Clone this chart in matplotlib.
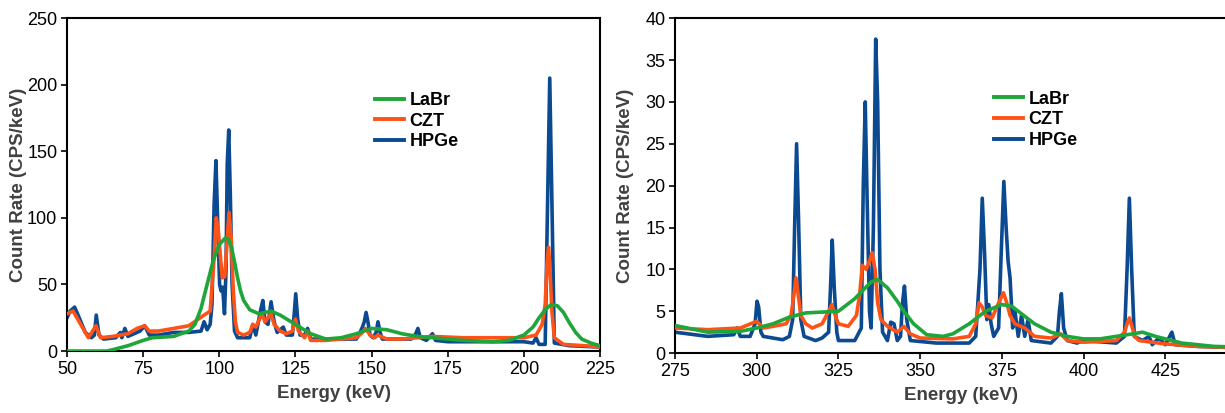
import matplotlib
matplotlib.use("Agg")
import matplotlib.pyplot as plt
from matplotlib.lines import Line2D

plt.rcParams["font.family"] = ["Liberation Sans", "DejaVu Sans"]
plt.rcParams["font.size"] = 13

GREEN = "#1fa63a"
ORANGE = "#ff5216"
BLUE = "#0b4a91"

# ---- left panel: 50-225 keV ----
hpge_e1 = [50, 51, 52.5, 54, 56, 58, 59, 59.6, 60.5, 62, 66, 67.5, 68, 69, 70, 72, 74, 75.5, 77,
           80, 85, 90, 94, 95, 96, 97, 97.6, 98.3, 98.9, 99.5, 100.1, 100.6, 101.1, 101.7, 102.2,
           102.6, 103.1, 103.6, 104.2, 105, 106, 110, 111, 112, 113.5, 114.3, 115, 116, 117, 118,
           119, 121, 122, 124, 124.5, 125.1, 125.7, 126.5, 128, 129, 130, 135, 140, 145, 146, 147,
           147.6, 148.2, 148.8, 149.5, 150.5, 151.5, 152.1, 152.8, 153.5, 155, 163, 164.5, 165.2,
           166, 168, 170, 171, 175, 185, 195, 200, 203, 204, 205, 207, 207.7, 208.5, 209.3, 210,
           215, 225]
hpge_c1 = [25, 30, 33, 25, 14, 10, 12, 27, 12, 9, 10, 14, 10, 17, 11, 13, 15, 19, 12,
           12, 14, 14, 15, 22, 16, 20, 35, 110, 143, 95, 50, 45, 48, 28, 60,
           140, 166, 120, 50, 15, 10, 10, 20, 12, 30, 38, 22, 20, 37, 22,
           14, 18, 12, 12, 25, 43, 25, 12, 12, 17, 9, 9, 9, 9, 13, 18,
           22, 29, 22, 12, 10, 14, 22, 14, 9, 9, 9, 13, 17,
           10, 8, 13, 8, 7, 7, 7, 7, 6, 10, 5, 5, 100, 205, 100, 6,
           4, 3]

czt_e1 = [50, 52, 54, 57, 59.5, 61, 65, 70, 73, 75.5, 77, 80, 85, 90, 95, 97, 98.3, 99, 99.7, 100.4,
          101, 101.8, 102.5, 103.2, 103.9, 104.6, 105.3, 106, 108, 110, 111, 112, 114, 115, 116, 117,
          118, 120, 122, 124, 125, 126, 128, 129, 130, 135, 140, 145, 147, 148, 149.5, 151, 152, 155,
          160, 165, 170, 180, 190, 200, 204, 206, 207, 207.6, 208.1, 208.6, 209.2, 210, 213, 220, 225]
czt_c1 = [28, 30, 22, 10, 19, 10, 11, 13, 17, 19, 15, 15, 17, 19, 27, 30, 70, 100, 90, 70,
          55, 56, 80, 104, 85, 45, 22, 14, 12, 14, 20, 18, 28, 22, 25, 28,
          20, 15, 13, 15, 24, 15, 10, 15, 8, 8, 9, 10, 14, 17, 12, 10, 12, 9,
          9, 10, 11, 10, 10, 10, 12, 20, 35, 65, 78, 60, 30, 10, 5, 4, 3]

labr_e1 = [50, 63, 65, 70, 75, 78, 85, 90, 92, 94, 96, 98, 100, 102, 103, 104, 105, 106, 107,
           108, 110, 113, 117, 120, 125, 130, 135, 140, 145, 150, 155, 160, 165, 170, 175, 180,
           190, 195, 200, 203, 205, 207, 209, 211, 213, 215, 217, 219, 222, 225]
labr_c1 = [0, 0, 1, 4, 8, 10, 11, 15, 20, 32, 50, 68, 80, 85, 84, 78, 67, 55, 45,
           38, 31, 28, 30, 27, 20, 13, 9, 10, 13, 17, 16, 13, 11, 10, 9, 8,
           7, 8, 12, 18, 25, 31, 35, 34, 29, 21, 14, 9, 6, 4]

# ---- right panel: 275-450 keV ----
hpge_e2 = [275, 285, 293, 294, 295, 298, 299.5, 300.1, 300.6, 301.3, 302, 305, 308, 310, 311, 311.6,
           312.2, 312.8, 313.5, 314.5, 318, 320, 322, 322.6, 323.1, 323.7, 324.5, 325, 330, 332,
           332.6, 333.2, 333.8, 334.5, 335, 335.7, 336.4, 337, 337.7, 338.5, 340, 341, 342, 343,
           344, 344.6, 345.2, 345.9, 347, 355, 365, 367, 368.3, 369, 369.7, 370.4, 371, 371.7,
           372.5, 374, 374.8, 375.6, 376.3, 376.9, 377.5, 378.3, 379, 380, 381, 382, 383, 384,
           390, 392, 392.6, 393.2, 393.9, 395, 398, 400, 410, 412.5, 413.3, 414, 414.7, 415.5,
           418, 420, 421, 423, 425, 427, 428, 435, 450]
hpge_c2 = [2.5, 2.0, 2.2, 3, 2, 2.0, 3.5, 6.2, 5.5, 2.5, 2.0, 1.8, 1.6, 2, 4, 15,
           25, 16, 4, 2, 1.5, 1.8, 2.5, 8, 13.5, 8, 2.5, 1.5, 1.5, 3,
           20, 30, 18, 5, 3, 15, 37.5, 30, 10, 2.5, 1.5, 3.7, 3.5, 1.5,
           2, 6, 8, 4, 1.5, 1.2, 1.2, 2, 10, 18.5, 12, 4, 5.8, 3.5,
           2, 3, 12, 20.5, 15, 11, 9, 3, 5, 2, 4.5, 2, 4, 1.5,
           1.2, 2, 5, 7.1, 3, 1.5, 1.2, 1.5, 1.2, 2, 10, 18.5, 10, 2,
           1.5, 2, 1, 1.8, 1, 2.5, 1, 0.8, 0.6]

czt_e2 = [275, 285, 295, 300, 302, 305, 309, 310.5, 311.4, 312, 312.7, 313.5, 315, 317, 320, 322,
          323, 324, 325, 328, 330.5, 331.5, 332.3, 333.5, 334.5, 335.3, 336.2, 337, 338, 340, 343,
          345, 347, 350, 360, 365, 367, 368, 369, 370, 372, 374, 375.5, 376.5, 377.5, 379, 382,
          385, 390, 393, 395, 400, 410, 412.5, 413.3, 414, 414.8, 415.6, 417, 425, 435, 450]
czt_c2 = [3.0, 2.8, 3.0, 3.8, 3.0, 3.2, 3.5, 4.5, 7, 9, 7, 4.5, 3.5, 3, 3.5, 5.0,
          5.8, 4.5, 3.5, 3.2, 4.5, 7, 10.5, 10, 11, 12, 10, 6, 4, 3.2, 2.5,
          3.2, 2.3, 1.8, 1.7, 2, 3.5, 6, 5.5, 4.5, 4.2, 6, 7.2, 6, 4.5, 3.5, 3,
          2, 1.8, 2.3, 1.5, 1.3, 1.5, 2.5, 3.5, 4.2, 3.2, 2, 1.5, 1.1, 0.8, 0.6]

labr_e2 = [275, 285, 295, 300, 305, 310, 315, 320, 325, 330, 335, 337, 340, 343, 345, 348, 352,
           357, 360, 365, 370, 375, 378, 380, 385, 390, 395, 400, 405, 410, 415, 418, 422, 430,
           440, 450]
labr_c2 = [3.3, 2.5, 2.6, 3.0, 3.5, 4.3, 4.8, 4.9, 5.0, 6.5, 8.5, 8.8, 7.8, 6.2, 5, 3.5, 2.2,
           2.0, 2.3, 3.5, 5, 5.8, 5.6, 5, 3.5, 2.5, 2.0, 1.7, 1.7, 2.0, 2.3, 2.5, 2.0, 1.2,
           0.8, 0.7]

fig = plt.figure(figsize=(12.25, 4.13), dpi=100)
ax1 = fig.add_axes([0.0547, 0.150, 0.4351, 0.806])
ax2 = fig.add_axes([0.551, 0.145, 0.467, 0.811])

lw = 2.6
for ax, data in [
    (ax1, [(labr_e1, labr_c1), (czt_e1, czt_c1), (hpge_e1, hpge_c1)]),
    (ax2, [(labr_e2, labr_c2), (czt_e2, czt_c2), (hpge_e2, hpge_c2)]),
]:
    (le, lc), (ce, cc), (he, hc) = data
    ax.plot(he, hc, color=BLUE, lw=lw, zorder=2)
    ax.plot(ce, cc, color=ORANGE, lw=lw, zorder=3)
    ax.plot(le, lc, color=GREEN, lw=lw, zorder=4)
    for s in ax.spines.values():
        s.set_linewidth(1.5)
    ax.tick_params(direction="out", length=4, width=1.2, labelsize=13, pad=3)
    ax.set_xlabel("Energy (keV)", fontsize=13.5, fontweight="bold", color="#404040", labelpad=5)
    ax.set_ylabel("Count Rate (CPS/keV)", fontsize=13.5, fontweight="bold", color="#404040")

# y-label anchor sits at the label's right edge
ax1.yaxis.set_label_coords(-0.075, 0.5)
ax2.yaxis.set_label_coords(-0.071, 0.5)

ax1.set_xlim(50, 225)
ax1.set_ylim(0, 250)
ax1.set_xticks([50, 75, 100, 125, 150, 175, 200, 225])
ax1.set_yticks([0, 50, 100, 150, 200, 250])

ax2.set_xlim(275, 450)
ax2.set_ylim(0, 40)
ax2.set_xticks([275, 300, 325, 350, 375, 400, 425])
ax2.set_yticks(range(0, 41, 5))

handles = [Line2D([], [], color=GREEN, lw=2.8), Line2D([], [], color=ORANGE, lw=2.8),
           Line2D([], [], color=BLUE, lw=2.8)]
names = ["LaBr", "CZT", "HPGe"]
for ax, anchor in [(ax1, (0.565, 0.80)), (ax2, (0.545, 0.805))]:
    ax.legend(handles, names, loc="upper left", bbox_to_anchor=anchor, frameon=False,
              prop={"weight": "bold", "size": 13}, handlelength=1.6, handletextpad=0.3,
              labelspacing=0.2, borderaxespad=0)

fig.savefig("out.png", dpi=100)
